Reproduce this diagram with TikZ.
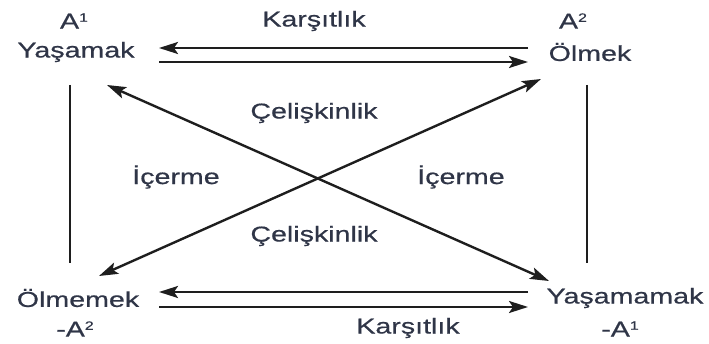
\documentclass[tikz,border=0pt]{standalone}
\usepackage{fontspec}
\setmainfont{Liberation Sans}[FakeStretch=1.33,FakeBold=0.6]
\usetikzlibrary{arrows.meta}
\definecolor{txt}{HTML}{2F3547}
\definecolor{ln}{HTML}{1E1E1E}
\tikzset{
  lbl/.style={text=txt, inner sep=0pt, font=\fontsize{21.5}{24}\selectfont},
  con/.style={draw=ln, line width=2.4pt},
  tip/.style={-{Stealth[length=19pt,width=12pt,inset=4pt]}},
  tips/.style={{Stealth[length=19pt,width=12pt,inset=4pt]}-{Stealth[length=19pt,width=12pt,inset=4pt]}}
}
\newcommand{\supr}[1]{\raisebox{0.6ex}{\fontsize{12}{12}\selectfont #1}}
\begin{document}
\begin{tikzpicture}[x=1pt,y=-1pt]
\useasboundingbox (0,0) rectangle (709,344);
% labels
\node[lbl] (a1) at (74,21) {A\supr{1}};
\node[lbl] (yas) at (76,52) {Yaşamak};
\node[lbl] (k1) at (314,21) {Karşıtlık};
\node[lbl] (a2) at (573,21) {A\supr{2}};
\node[lbl] (olm) at (590,52) {Ölmek};
\node[lbl] (c1) at (314,113) {Çelişkinlik};
\node[lbl] (i1) at (176,177) {İçerme};
\node[lbl] (i2) at (461,177) {İçerme};
\node[lbl] (c2) at (314,236) {Çelişkinlik};
\node[lbl] (olmm) at (78,298) {Ölmemek};
\node[lbl] (na2) at (75,329) {-A\supr{2}};
\node[lbl] (yasm) at (625,298) {Yaşamamak};
\node[lbl] (na1) at (620,329) {-A\supr{1}};
\node[lbl] (k2) at (408,328) {Karşıtlık};
% connector endpoints
\coordinate (t1l) at (159,48);  \coordinate (t1r) at (528,48);
\coordinate (t2l) at (159,62);  \coordinate (t2r) at (528,62);
\coordinate (b1l) at (159,292); \coordinate (b1r) at (528,292);
\coordinate (b2l) at (159,307); \coordinate (b2r) at (528,307);
\coordinate (lvt) at (70,85);   \coordinate (lvb) at (70,263);
\coordinate (rvt) at (587,85);  \coordinate (rvb) at (587,263);
\coordinate (d1a) at (107,85);  \coordinate (d1b) at (549,281);
\coordinate (d2a) at (541,79);  \coordinate (d2b) at (99,276);
% connectors
\draw[con,tip] (t1r) -- (t1l);
\draw[con,tip] (t2l) -- (t2r);
\draw[con,tip] (b1r) -- (b1l);
\draw[con,tip] (b2l) -- (b2r);
\draw[con] (lvt) -- (lvb);
\draw[con] (rvt) -- (rvb);
\draw[con,tips] (d1a) -- (d1b);
\draw[con,tips] (d2a) -- (d2b);
\end{tikzpicture}
\end{document}
